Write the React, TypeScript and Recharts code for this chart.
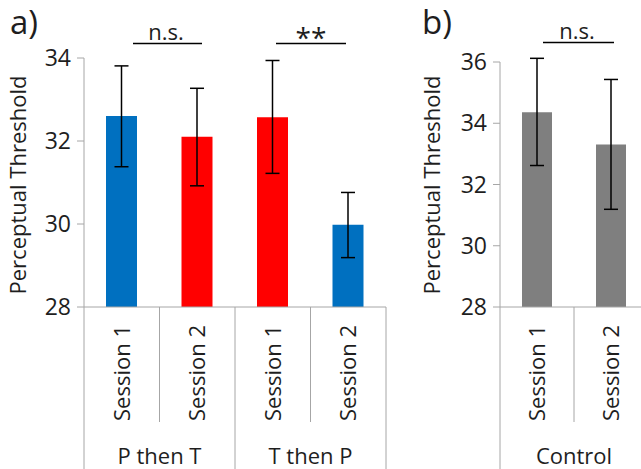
import React from 'react';
import { BarChart, Bar, XAxis, YAxis, ErrorBar, Cell } from 'recharts';

// panel a
const sessionsA = ['Session 1', 'Session 2', 'Session 1', 'Session 2'];
const groupsA = ['P then T', 'P then T', 'T then P', 'T then P'];
const stimA = ['P', 'T', 'T', 'P'];
const meansA = [32.6, 32.1, 32.57, 29.98];
const upperA = [33.81, 33.27, 33.94, 30.76];
const lowerA = [31.38, 30.92, 31.22, 29.19];
const ticksA = [28, 30, 32, 34];

// panel b
const sessionsB = ['Session 1', 'Session 2'];
const groupsB = ['Control', 'Control'];
const meansB = [34.36, 33.31];
const upperB = [36.12, 35.43];
const lowerB = [32.62, 31.19];
const ticksB = [28, 30, 32, 34, 36];

const STIM_COLOR: Record<string, string> = { P: '#0070C0', T: '#FF0000' };
const GRAY = '#7F7F7F';
const AXIS = '#A6A6A6';
const TEXT = '#1E1E1E';
const FONT = '"Open Sans", sans-serif';

const build = (sessions: string[], groups: string[], means: number[], upper: number[], lower: number[]) =>
  means.map((m, i) => ({
    id: `c${i}`,
    session: sessions[i],
    group: groups[i],
    mean: m,
    err: [m - lower[i], upper[i] - m],
  }));

const dataA = build(sessionsA, groupsA, meansA, upperA, lowerA);
const dataB = build(sessionsB, groupsB, meansB, upperB, lowerB);

function makeTick(data: { session: string; group: string }[], band: number) {
  return function CategoryTick(props: any) {
    const { x, y, payload } = props;
    const i = props.index ?? payload.index ?? 0;
    const row = data[i];
    const left = x - band / 2;
    const firstOfGroup = i === 0 || data[i - 1].group !== row.group;
    let groupEnd = i;
    while (groupEnd + 1 < data.length && data[groupEnd + 1].group === row.group) groupEnd++;
    const groupCenter = left + ((groupEnd - i + 1) * band) / 2;
    return (
      <g>
        <line x1={left} y1={y} x2={left} y2={y + (firstOfGroup ? 170 : 115)} stroke={AXIS} strokeWidth={1} />
        {i === data.length - 1 && (
          <line x1={left + band} y1={y} x2={left + band} y2={y + 170} stroke={AXIS} strokeWidth={1} />
        )}
        <text
          x={x + 8}
          y={y + 18}
          transform={`rotate(-90 ${x + 8} ${y + 18})`}
          textAnchor="end"
          fontSize={22}
          fill={TEXT}
          fontFamily={FONT}
        >
          {row.session}
        </text>
        {firstOfGroup && (
          <text x={groupCenter} y={y + 157} textAnchor="middle" fontSize={22} fill={TEXT} fontFamily={FONT}>
            {row.group}
          </text>
        )}
      </g>
    );
  };
}

const TickA = makeTick(dataA, 302 / 4);
const TickB = makeTick(dataB, 148 / 2);

const yTick = { fontSize: 23, fill: TEXT, fontFamily: FONT };

export default function App() {
  return (
    <div style={{ position: 'absolute', left: 0, top: 0, width: 641, height: 469, overflow: 'hidden', background: '#fff', fontFamily: FONT }}>
      <div style={{ position: 'absolute', left: 0, top: 0 }}>
        <BarChart width={400} height={469} data={dataA} margin={{ top: 58, right: 14, left: 0, bottom: 0 }}>
          <XAxis dataKey="id" height={162} axisLine={{ stroke: AXIS }} tickLine={false} tickSize={0} tickMargin={0} tick={<TickA />} interval={0} />
          <YAxis
            width={84}
            domain={[28, 34]}
            ticks={ticksA}
            allowDataOverflow
            axisLine={{ stroke: AXIS }}
            tickLine={{ stroke: AXIS }}
            tickSize={7}
            tickMargin={6}
            tick={yTick}
          />
          <Bar dataKey="mean" barSize={31} isAnimationActive={false}>
            {dataA.map((d, i) => (
              <Cell key={d.id} fill={STIM_COLOR[stimA[i]]} />
            ))}
            <ErrorBar dataKey="err" width={7} stroke="#000" strokeWidth={1.5} direction="y" isAnimationActive={false} />
          </Bar>
        </BarChart>
      </div>
      <div style={{ position: 'absolute', left: 410, top: 0 }}>
        <BarChart width={241} height={469} data={dataB} margin={{ top: 62, right: 3, left: 0, bottom: 0 }}>
          <XAxis dataKey="id" height={162} axisLine={{ stroke: AXIS }} tickLine={false} tickSize={0} tickMargin={0} tick={<TickB />} interval={0} />
          <YAxis
            width={90}
            domain={[28, 36]}
            ticks={ticksB}
            allowDataOverflow
            axisLine={{ stroke: AXIS }}
            tickLine={{ stroke: AXIS }}
            tickSize={7}
            tickMargin={6}
            tick={yTick}
          />
          <Bar dataKey="mean" barSize={30} fill={GRAY} isAnimationActive={false}>
            <ErrorBar dataKey="err" width={7} stroke="#000" strokeWidth={1.5} direction="y" isAnimationActive={false} />
          </Bar>
        </BarChart>
      </div>
      <svg width={641} height={469} style={{ position: 'absolute', left: 0, top: 0, pointerEvents: 'none' }} fontFamily={FONT}>
        <text x={10} y={34} fontSize={33} fill={TEXT}>a)</text>
        <text x={422} y={34} fontSize={33} fill={TEXT}>b)</text>
        <text x={166} y={40} fontSize={22} fill={TEXT} textAnchor="middle">n.s.</text>
        <line x1={133} y1={43.5} x2={202} y2={43.5} stroke="#000" strokeWidth={1.5} />
        <text x={311} y={48} fontSize={28} fill={TEXT} textAnchor="middle">**</text>
        <line x1={276} y1={43.5} x2={346} y2={43.5} stroke="#000" strokeWidth={1.5} />
        <text x={577} y={39} fontSize={22} fill={TEXT} textAnchor="middle">n.s.</text>
        <line x1={543} y1={42.5} x2={614} y2={42.5} stroke="#000" strokeWidth={1.5} />
        <text x={26} y={185} fontSize={22} fill={TEXT} textAnchor="middle" transform="rotate(-90 26 185)">Perceptual Threshold</text>
        <text x={440} y={185} fontSize={22} fill={TEXT} textAnchor="middle" transform="rotate(-90 440 185)">Perceptual Threshold</text>
      </svg>
    </div>
  );
}
